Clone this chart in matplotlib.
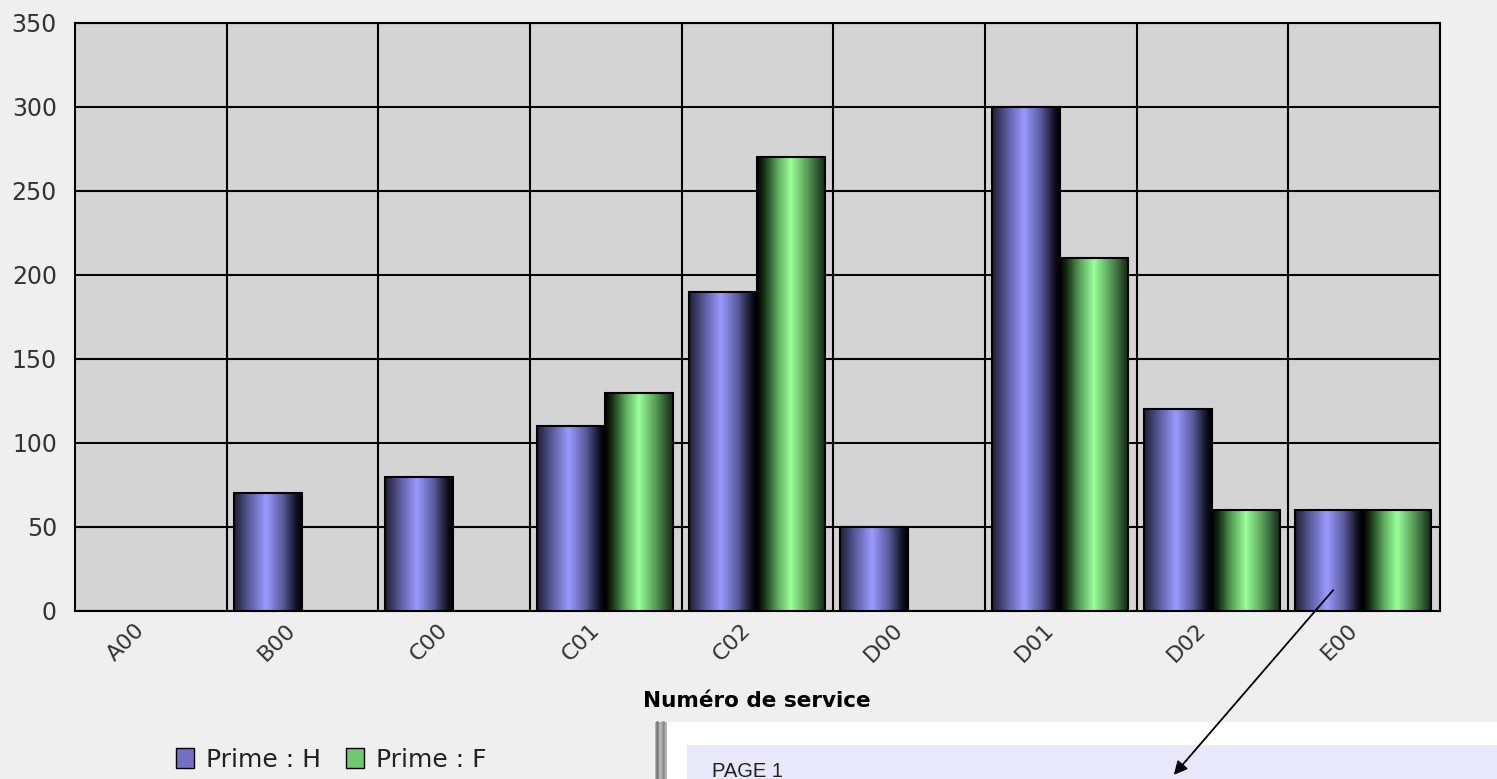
import numpy as np
import matplotlib.pyplot as plt
from matplotlib.colors import LinearSegmentedColormap
from matplotlib.patches import Rectangle, Patch, FancyArrowPatch
from matplotlib.lines import Line2D

services = ["A00", "B00", "C00", "C01", "C02", "D00", "D01", "D02", "E00"]
prime_h = [0, 70, 80, 110, 190, 50, 300, 120, 60]
prime_f = [0, 0, 0, 130, 270, 0, 210, 60, 60]
yticks = [0, 50, 100, 150, 200, 250, 300, 350]

W, H = 1497, 779
fig = plt.figure(figsize=(W / 100, H / 100), dpi=100, facecolor="#efefef")
ax = fig.add_axes([75 / W, 1 - 611 / H, 1365 / W, 588 / H])
ax.set_facecolor("#d4d4d4")

cm_h = LinearSegmentedColormap.from_list("h", [
    (0.0, "#1e1e34"), (0.22, "#5a5a9c"), (0.47, "#9a9aff"),
    (0.72, "#5a5a9a"), (0.92, "#101020"), (1.0, "#000000")])
cm_f = LinearSegmentedColormap.from_list("f", [
    (0.0, "#000000"), (0.1, "#123012"), (0.3, "#5aa85a"), (0.5, "#9aff9a"),
    (0.75, "#569a56"), (1.0, "#142814")])
grad = np.linspace(0, 1, 256).reshape(1, -1)

bw = 0.448
x = np.arange(len(services))


def gradient_bars(xs, vals, cmap):
    for xi, v in zip(xs, vals):
        if v <= 0:
            continue
        ax.imshow(grad, cmap=cmap, aspect="auto", zorder=3,
                  extent=(xi - bw / 2, xi + bw / 2, 0, v), interpolation="bilinear")
        ax.add_patch(Rectangle((xi - bw / 2, 0), bw, v, fill=False,
                               edgecolor="black", lw=1.5, zorder=4))


gradient_bars(x - bw / 2 - 0.005, prime_h, cm_h)
gradient_bars(x + bw / 2 - 0.005, prime_f, cm_f)

ax.set_xlim(-0.5, len(services) - 0.5)
ax.set_ylim(0, 350)
ax.set_yticks(yticks)
ax.set_yticklabels([str(t) for t in yticks], fontsize=17, color="#333333")
# labels sit a little left of the category centre
ax.set_xticks(x - 0.11)
ax.set_xticklabels(services, rotation=45, ha="right", rotation_mode="anchor",
                   fontsize=16, color="#333333")
ax.set_xticks(np.arange(0.5, len(services) - 1, 1), minor=True)
ax.tick_params(axis="both", which="both", length=0)
ax.tick_params(axis="y", pad=13)
ax.tick_params(axis="x", pad=6)
ax.grid(True, which="minor", axis="x", color="black", lw=1.5, zorder=1)
ax.grid(True, which="major", axis="y", color="black", lw=1.5, zorder=1)
ax.set_axisbelow(True)
for s in ax.spines.values():
    s.set_linewidth(1.5)
    s.set_color("black")

fig.text(757 / W, 1 - 701 / H, "Numéro de service", ha="center", va="center",
         fontsize=15.5, fontweight="bold", family="DejaVu Sans Condensed")

handles = [Patch(facecolor="#7070c8", edgecolor="black", label="Prime : H"),
           Patch(facecolor="#70c870", edgecolor="black", label="Prime : F")]
fig.legend(handles=handles, loc="center", bbox_to_anchor=(331 / W, 1 - 760 / H),
           ncol=2, frameon=False, fontsize=18, handlelength=0.75, handleheight=0.85,
           handletextpad=0.45, columnspacing=1.0, labelcolor="#222222")

# page panel at the bottom right
fig.patches.append(Rectangle((655 / W, 0), 1 - 655 / W, 1 - 722 / H,
                             transform=fig.transFigure, facecolor="white",
                             edgecolor="none", zorder=1))
fig.patches.append(Rectangle((687 / W, 0), 1 - 687 / W, 1 - 745 / H,
                             transform=fig.transFigure, facecolor="#e8e8fa",
                             edgecolor="none", zorder=1))
fig.patches.append(Rectangle((655 / W, 0), 12 / W, 1 - 722 / H,
                             transform=fig.transFigure, facecolor="#b4b4b8",
                             edgecolor="none", zorder=2))
for px, c in [(656.5, "#7a7a80"), (662.5, "#8a8a90")]:
    fig.lines.append(Line2D([px / W, px / W], [0, 1 - 722 / H], transform=fig.transFigure,
                            color=c, lw=1.8, zorder=3))
fig.text(712 / W, 1 - 777 / H, "PAGE 1", ha="left", va="baseline", fontsize=14.5,
         family="Liberation Sans", color="#222222", zorder=3)

arrow = FancyArrowPatch((1335 / W, 1 - 588 / H), (1172 / W, 1 - 777 / H),
                        transform=fig.transFigure, arrowstyle="-|>", color="black",
                        lw=1.3, mutation_scale=20, zorder=10)
fig.patches.append(arrow)

fig.savefig("out.png", dpi=100, facecolor=fig.get_facecolor())
